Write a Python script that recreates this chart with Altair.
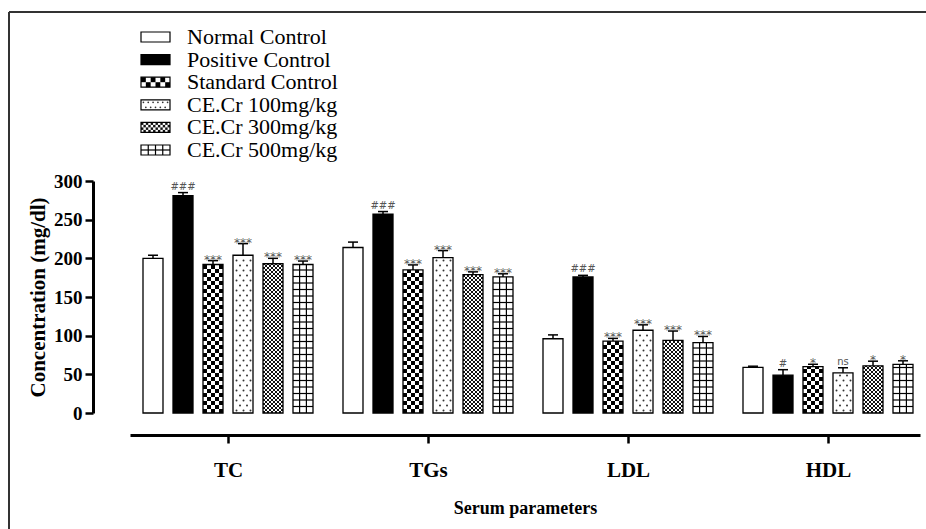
import json
import altair as alt
import pandas as pd

# ---------------- data ----------------
groups = ["TC", "TGs", "LDL", "HDL"]
series = ["Normal Control", "Positive Control", "Standard Control",
          "CE.Cr 100mg/kg", "CE.Cr 300mg/kg", "CE.Cr 500mg/kg"]

normal_control = [200, 214, 96, 59]
positive_control = [281, 257, 176, 49]
standard_control = [192, 185, 93, 60]
ce_100 = [204, 201, 107, 52]
ce_300 = [193, 179, 94, 61]
ce_500 = [192, 176, 91, 63]

normal_err = [4, 7, 5, 1.5]
positive_err = [4, 3.5, 2, 7]
standard_err = [5, 6.5, 3.5, 3]
ce_100_err = [15, 9, 7, 6.5]
ce_300_err = [7, 3.5, 12, 6]
ce_500_err = [4.5, 4, 8, 4.5]

normal_sig = ["", "", "", ""]
positive_sig = ["###", "###", "###", "#"]
standard_sig = ["***", "***", "***", "*"]
ce_100_sig = ["***", "***", "***", "ns"]
ce_300_sig = ["***", "***", "***", "*"]
ce_500_sig = ["***", "***", "***", "*"]

y_ticks = [0, 50, 100, 150, 200, 250, 300]

values = [normal_control, positive_control, standard_control, ce_100, ce_300, ce_500]
errors = [normal_err, positive_err, standard_err, ce_100_err, ce_300_err, ce_500_err]
sigs = [normal_sig, positive_sig, standard_sig, ce_100_sig, ce_300_sig, ce_500_sig]

# ---------------- layout ----------------
SERIF = "Liberation Serif"
PLOT_W, PLOT_H = 790, 232
X_DOMAIN = [-0.49, 3.46]
UX = (X_DOMAIN[1] - X_DOMAIN[0]) / PLOT_W   # x units per pixel
UY = 300 / PLOT_H                            # y units per pixel
BAR_PITCH = 30 * UX
BAR_W = 20 * UX
CAP_HALF = 5 * UX
fills = ["white", "black", "white", "white", "white", "white"]


def checker(xl, xr, y0, y1, ncols, ch, phase=0):
    cw = (xr - xl) / ncols
    out, r, y = [], 0, y0
    while y < y1 - 1e-9:
        yt = min(y + ch, y1)
        for c in range(ncols):
            if (r + c + phase) % 2 == 0:
                out.append({"xl": xl + c * cw, "xr": xl + (c + 1) * cw, "y1": y, "y2": yt})
        y += ch
        r += 1
    return out


def dots(xl, xr, y0, y1, xp, yp):
    out, r, y = [], 0, y0 + yp / 2
    while y < y1 - yp * 0.3:
        x = xl + (xp / 2 if r % 2 == 0 else xp)
        while x < xr - xp * 0.3:
            out.append({"x": x, "y": y})
            x += xp
        y += yp
        r += 1
    return out


def grid(xl, xr, y0, y1, vfracs, yp):
    v = [{"x": xl + f * (xr - xl), "y1": y0, "y2": y1} for f in vfracs]
    h, y = [], y0 + yp
    while y < y1 - yp * 0.3:
        h.append({"xl": xl, "xr": xr, "y": y})
        y += yp
    return v, h


# ---------------- bar table + patterns ----------------
rows = []
std_cells, fine_cells, dot_pts, vlines, hlines = [], [], [], [], []
for j, s in enumerate(series):
    for i, g in enumerate(groups):
        v, e = values[j][i], errors[j][i]
        xc = i + (j - 2.5) * BAR_PITCH
        xl, xr = xc - BAR_W / 2, xc + BAR_W / 2
        rows.append({"group": g, "series": s, "xc": xc, "xl": xl, "xr": xr,
                     "value": v, "zero": 0, "top": v + e,
                     "capl": xc - CAP_HALF, "capr": xc + CAP_HALF, "sig": sigs[j][i]})
        if j == 2:
            std_cells += checker(xl, xr, 0, v, 5, 4 * UY)
        elif j == 3:
            dot_pts += dots(xl, xr, 0, v, 7 * UX, 5 * UY)
        elif j == 4:
            fine_cells += checker(xl, xr, 0, v, 10, 2 * UY)
        elif j == 5:
            vv, hh = grid(xl, xr, 0, v, [0.33, 0.67], 6.5 * UY)
            vlines += vv
            hlines += hh
bars = pd.DataFrame(rows)

# legend tables
L_SW_H = 0.221
leg_rows = []
l_std, l_fine, l_dots, l_v, l_h = [], [], [], [], []
for k, s in enumerate(series):
    y0, y1 = k - L_SW_H, k + L_SW_H
    leg_rows.append({"series": s, "idx": k, "xl": 0, "xr": 1, "y1": y0, "y2": y1})
    if k == 2:
        l_std += checker(0, 1, y0, y1, 6, L_SW_H)
    elif k == 3:
        l_dots += dots(0, 1, y0, y1, 1 / 6, L_SW_H)
    elif k == 4:
        l_fine += checker(0, 1, y0, y1, 12, L_SW_H / 2)
    elif k == 5:
        vv, hh = grid(0, 1, y0, y1, [0.25, 0.5, 0.75], L_SW_H)
        l_v += vv
        l_h += hh
legend_df = pd.DataFrame(leg_rows)

# ---------------- scales / axes ----------------
xs = alt.Scale(domain=X_DOMAIN, nice=False, zero=False)
ys = alt.Scale(domain=[0, 300], nice=False, zero=True)
label_expr = json.dumps(groups) + "[datum.value]"
x_axis = alt.Axis(values=list(range(len(groups))), labelExpr=label_expr,
                  title="Serum parameters", offset=22, grid=False,
                  domainWidth=3, domainColor="black", tickColor="black",
                  tickWidth=2.5, tickSize=8, labelFont=SERIF, labelFontWeight="bold",
                  labelFontSize=21, labelColor="black", labelPadding=16,
                  titleFont=SERIF, titleFontSize=18, titleFontWeight="bold",
                  titleColor="black", titlePadding=19)
y_axis = alt.Axis(values=y_ticks, title="Concentration (mg/dl)", offset=37, grid=False,
                  domainWidth=3, domainColor="black", tickColor="black",
                  tickWidth=2.5, tickSize=8, labelFont=SERIF, labelFontWeight="bold",
                  labelFontSize=19, labelColor="black", labelPadding=3,
                  titleFont=SERIF, titleFontSize=21, titleFontWeight="bold",
                  titleColor="black", titlePadding=5)


def MX(f):
    return alt.X(f, type="quantitative", scale=xs, axis=x_axis)


def MY(f):
    return alt.Y(f, type="quantitative", scale=ys, axis=y_axis)


lxs = alt.Scale(domain=[0, 1], range=[11, 40], nice=False, zero=False)
lys = alt.Scale(domain=[0, 5], range=[-144, -31], nice=False, zero=False)


def LX(f):
    return alt.X(f, type="quantitative", scale=lxs, axis=None)


def LY(f):
    return alt.Y(f, type="quantitative", scale=lys, axis=None)


def pattern_layers(std, fine, dts, vl, hl, X, Y, dot_size):
    out = []
    if std:
        out.append(alt.Chart(pd.DataFrame(std)).mark_rect(color="black").encode(
            x=X("xl"), x2="xr", y=Y("y1"), y2="y2"))
    if fine:
        out.append(alt.Chart(pd.DataFrame(fine)).mark_rect(color="#111").encode(
            x=X("xl"), x2="xr", y=Y("y1"), y2="y2"))
    if dts:
        out.append(alt.Chart(pd.DataFrame(dts)).mark_circle(color="#333", opacity=1,
                                                            size=dot_size).encode(
            x=X("x"), y=Y("y")))
    if vl:
        out.append(alt.Chart(pd.DataFrame(vl)).mark_rule(color="black", strokeWidth=1.2).encode(
            x=X("x"), y=Y("y1"), y2="y2"))
    if hl:
        out.append(alt.Chart(pd.DataFrame(hl)).mark_rule(color="black", strokeWidth=1.2).encode(
            x=X("xl"), x2="xr", y=Y("y")))
    return out


# ---------------- main layers ----------------
base = alt.Chart(bars)
fill_layer = base.mark_rect().encode(
    x=MX("xl"), x2="xr", y=MY("value"), y2="zero",
    color=alt.Color("series:N", scale=alt.Scale(domain=series, range=fills), legend=None))
outline = base.mark_rect(fillOpacity=0, stroke="black", strokeWidth=1.3).encode(
    x=MX("xl"), x2="xr", y=MY("value"), y2="zero")
err_v = base.mark_rule(color="black", strokeWidth=1.5).encode(
    x=MX("xc"), y=MY("value"), y2="top")
err_cap = base.mark_rule(color="black", strokeWidth=1.5).encode(
    x=MX("capl"), x2="capr", y=MY("top"))
sig_star = base.transform_filter("indexof(datum.sig, '*') >= 0").mark_text(
    font="DejaVu Sans", fontSize=12, color="#555", baseline="alphabetic", dy=3).encode(
    x=MX("xc"), y=MY("top"), text="sig:N")
sig_other = base.transform_filter("datum.sig != '' && indexof(datum.sig, '*') < 0").mark_text(
    font="DejaVu Sans", fontSize=10, color="#555", baseline="alphabetic", dy=-3).encode(
    x=MX("xc"), y=MY("top"), text="sig:N")

frame_df = pd.DataFrame({"k": [0]})
frame_top = alt.Chart(frame_df).mark_rule(color="#333", strokeWidth=2).encode(
    x=alt.value(-121), x2=alt.value(796), y=alt.value(-169))
frame_left = alt.Chart(frame_df).mark_rule(color="#333", strokeWidth=2).encode(
    x=alt.value(-121), y=alt.value(-169), y2=alt.value(348))

main = alt.layer(
    fill_layer,
    *pattern_layers(std_cells, fine_cells, dot_pts, vlines, hlines, MX, MY, 4),
    outline, err_v, err_cap, sig_star, sig_other, frame_top, frame_left,
)

# ---------------- legend layers ----------------
lbase = alt.Chart(legend_df)
l_fill = lbase.mark_rect().encode(
    x=LX("xl"), x2="xr", y=LY("y1"), y2="y2",
    color=alt.Color("series:N", scale=alt.Scale(domain=series, range=fills), legend=None))
l_outline = lbase.mark_rect(fillOpacity=0, stroke="black", strokeWidth=1.2).encode(
    x=LX("xl"), x2="xr", y=LY("y1"), y2="y2")
l_text = lbase.mark_text(font=SERIF, fontSize=22, color="black", align="left",
                         baseline="middle").encode(
    x=alt.value(57), y=LY("idx"), text="series:N")
legend = alt.layer(
    l_fill,
    *pattern_layers(l_std, l_fine, l_dots, l_v, l_h, LX, LY, 3),
    l_outline, l_text,
)

chart = alt.layer(main, legend).resolve_scale(
    x="independent", y="independent", color="independent"
).properties(
    width=PLOT_W, height=PLOT_H,
    autosize=alt.AutoSizeParams(type="none"),
    padding={"left": 130, "top": 181, "right": 6, "bottom": 116},
    background="white",
).configure_view(stroke=None)

chart.save("out.html", embed_options={"renderer": "svg", "actions": False})
